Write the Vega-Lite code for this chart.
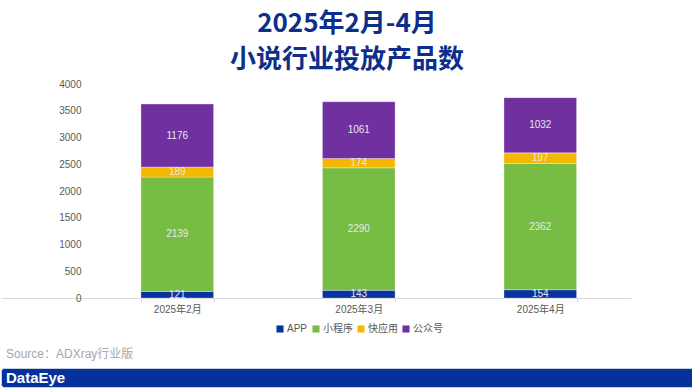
{
  "$schema": "https://vega.github.io/schema/vega-lite/v6.json",
  "background": "white",
  "padding": {"top": 11, "left": 0, "right": 0, "bottom": 0},
  "spacing": 13,
  "title": {
    "text": ["2025年2月-4月", "小说行业投放产品数"],
    "font": "Noto Sans CJK SC",
    "fontSize": 26,
    "fontWeight": "bold",
    "color": "#0d2f8c",
    "lineHeight": 36,
    "anchor": "middle",
    "frame": "bounds",
    "offset": 6
  },
  "config": {
    "view": {"stroke": null},
    "font": "Liberation Sans, Noto Sans CJK SC"
  },
  "resolve": {
    "scale": {"x": "independent", "y": "independent", "color": "independent"},
    "legend": {"color": "independent"}
  },
  "datasets": {
    "products": [
      {"month": "2025年2月", "type": "APP", "k": 1, "value": 121},
      {"month": "2025年2月", "type": "小程序", "k": 2, "value": 2139},
      {"month": "2025年2月", "type": "快应用", "k": 3, "value": 189},
      {"month": "2025年2月", "type": "公众号", "k": 4, "value": 1176},
      {"month": "2025年3月", "type": "APP", "k": 1, "value": 143},
      {"month": "2025年3月", "type": "小程序", "k": 2, "value": 2290},
      {"month": "2025年3月", "type": "快应用", "k": 3, "value": 174},
      {"month": "2025年3月", "type": "公众号", "k": 4, "value": 1061},
      {"month": "2025年4月", "type": "APP", "k": 1, "value": 154},
      {"month": "2025年4月", "type": "小程序", "k": 2, "value": 2362},
      {"month": "2025年4月", "type": "快应用", "k": 3, "value": 197},
      {"month": "2025年4月", "type": "公众号", "k": 4, "value": 1032}
    ],
    "footer": [{"label": "DataEye"}]
  },
  "vconcat": [
    {
      "width": 630,
      "height": 214,
      "data": {"name": "products"},
      "transform": [
        {"stack": "value", "groupby": ["month"], "sort": [{"field": "k", "order": "ascending"}], "as": ["v0", "v1"]}
      ],
      "encoding": {
        "x": {
          "field": "month",
          "type": "ordinal",
          "sort": ["2025年2月", "2025年3月", "2025年4月"],
          "scale": {"paddingInner": 0.6, "paddingOuter": 0.5355, "align": 0.72},
          "axis": {
            "title": null,
            "labelAngle": 0,
            "domainColor": "#d9d9d9",
            "tickColor": "#d9d9d9",
            "tickSize": 4,
            "tickBand": "extent",
            "labelPadding": 2,
            "labelFontSize": 10,
            "labelColor": "#595959"
          }
        }
      },
      "layer": [
        {
          "mark": {"type": "bar", "stroke": "#ffffff", "strokeWidth": 0.5, "strokeOpacity": 0.6},
          "encoding": {
            "y": {
              "field": "v0",
              "type": "quantitative",
              "scale": {"domain": [0, 4000], "nice": false},
              "axis": {
                "title": null,
                "values": [0, 500, 1000, 1500, 2000, 2500, 3000, 3500, 4000],
                "format": "d",
                "labelOverlap": false,
                "domain": false,
                "ticks": false,
                "grid": false,
                "offset": -86,
                "labelPadding": 6,
                "labelFontSize": 10,
                "labelColor": "#595959"
              }
            },
            "y2": {"field": "v1"},
            "color": {
              "field": "type",
              "type": "nominal",
              "scale": {
                "domain": ["APP", "小程序", "快应用", "公众号"],
                "range": ["#0633a0", "#77bc43", "#f5b800", "#7030a0"]
              },
              "legend": {
                "title": null,
                "orient": "none",
                "legendX": 274,
                "legendY": 240,
                "direction": "horizontal",
                "symbolType": "square",
                "symbolSize": 50,
                "symbolStrokeWidth": 0,
                "labelFontSize": 10,
                "labelColor": "#595959",
                "columnPadding": 3,
                "labelOffset": 2
              }
            }
          }
        },
        {
          "transform": [{"fold": ["v0", "v1"], "as": ["edge", "pos"]}],
          "mark": {"type": "text", "baseline": "middle", "align": "center", "color": "#e8e8e8", "fontSize": 10},
          "encoding": {
            "y": {
              "field": "pos",
              "aggregate": "mean",
              "type": "quantitative",
              "axis": {
                "title": null,
                "values": [0, 500, 1000, 1500, 2000, 2500, 3000, 3500, 4000],
                "format": "d",
                "labelOverlap": false,
                "domain": false,
                "ticks": false,
                "grid": false,
                "offset": -86,
                "labelPadding": 6,
                "labelFontSize": 10,
                "labelColor": "#595959"
              }
            },
            "detail": {"field": "type", "type": "nominal"},
            "text": {"field": "value", "type": "quantitative"}
          }
        }
      ]
    },
    {
      "width": 692,
      "height": 19,
      "view": {"fill": "#05319c", "stroke": "#c8cfe0", "strokeWidth": 1, "cornerRadius": 3},
      "title": {
        "text": "Source：ADXray行业版",
        "anchor": "start",
        "frame": "group",
        "fontSize": 12,
        "fontWeight": "normal",
        "color": "#a6a6a6",
        "dx": 5,
        "offset": 7
      },
      "data": {"name": "footer"},
      "mark": {"type": "text", "align": "left", "baseline": "middle", "color": "white", "fontSize": 15, "fontWeight": "bold", "dx": 5},
      "encoding": {
        "text": {"field": "label", "type": "nominal"},
        "x": {"datum": 0, "type": "quantitative", "scale": {"domain": [0, 1]}, "axis": null}
      }
    }
  ]
}
